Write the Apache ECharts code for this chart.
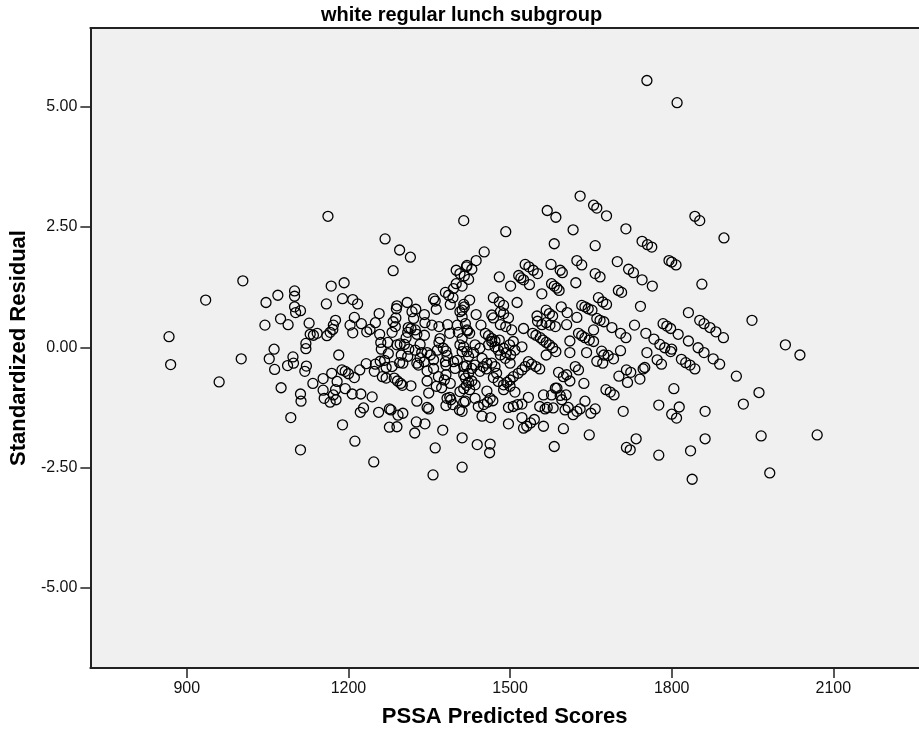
<!DOCTYPE html>
<html>
<head>
<meta charset="utf-8">
<style>
  html, body { margin: 0; padding: 0; background: #fff; }
  #chart { width: 919px; height: 733px; }
</style>
<script src="https://cdn.jsdelivr.net/npm/echarts@6/dist/echarts.min.js"></script>
</head>
<body>
<div id="chart"></div>
<script>
// tick positions shown on each axis
const xTicks = [900, 1200, 1500, 1800, 2100];
const yTicks = [-5, -2.5, 0, 2.5, 5];

// [predicted score, standardized residual]
const leftPoints = [
  [1162, 2.72], [1004, 1.38], [935, 0.98], [867, 0.22], [870, -0.36], [960, -0.72],
  [1001, -0.24], [1047, 0.93], [1069, 1.08], [1100, 1.17], [1100, 1.06], [1100, 0.84],
  [1102, 0.72], [1111, 0.76], [1045, 0.46], [1074, 0.59], [1088, 0.47], [1127, 0.50],
  [1129, 0.27], [1135, 0.25], [1142, 0.29], [1121, 0.08], [1121, -0.03], [1160, 0.24],
  [1159, 0.90], [1168, 1.27], [1062, -0.04], [1053, -0.24], [1063, -0.46], [1097, -0.20],
  [1087, -0.38], [1098, -0.33], [1122, -0.39], [1119, -0.50], [1075, -0.84], [1111, -0.97],
  [1112, -1.12], [1134, -0.75], [1153, -0.65], [1153, -0.89], [1155, -1.06], [1093, -1.46],
  [1111, -2.13]
];

const midLeftPoints = [
  [1414, 2.63], [1268, 2.25], [1295, 2.02], [1315, 1.87], [1283, 1.59], [1192, 1.34],
  [1189, 1.01], [1208, 0.99], [1217, 0.90], [1176, 0.56], [1172, 0.46], [1171, 0.37],
  [1166, 0.31], [1203, 0.46], [1208, 0.30], [1211, 0.62], [1224, 0.49], [1234, 0.32],
  [1250, 0.51], [1257, 0.70], [1258, 0.27], [1240, 0.37], [1182, -0.16], [1169, -0.54],
  [1188, -0.47], [1194, -0.50], [1200, -0.55], [1211, -0.63], [1221, -0.47], [1233, -0.34],
  [1179, -0.71], [1176, -0.88], [1172, -0.99], [1177, -1.09], [1166, -1.14], [1194, -0.86],
  [1207, -0.97], [1223, -0.97], [1244, -1.03], [1222, -1.35], [1228, -1.26], [1189, -1.61],
  [1212, -1.95], [1247, -2.38], [1250, -0.35], [1248, -0.50], [1259, -0.29], [1267, -0.27],
  [1261, -0.04], [1273, 0.10], [1256, -1.35], [1276, -1.28], [1279, -1.30], [1292, -1.41],
  [1301, -1.37], [1276, -1.66], [1290, -1.65], [1263, -0.61], [1270, -0.64], [1285, -0.64],
  [1291, -0.70], [1297, -0.75], [1300, -0.79], [1316, -0.80], [1281, -0.40], [1295, -0.32],
  [1298, -0.16], [1301, -0.33], [1310, -0.19], [1290, 0.05], [1296, 0.07], [1274, -0.13],
  [1281, 0.31], [1287, 0.43], [1283, 0.53], [1288, 0.61], [1289, 0.80], [1290, 0.86],
  [1309, 0.93], [1325, 0.79], [1318, 0.74], [1321, 0.60], [1341, 0.68], [1342, 0.51],
  [1316, 0.39], [1311, 0.41], [1310, 0.31], [1324, 0.36], [1327, 0.27], [1307, 0.20],
  [1333, 0.06], [1341, 0.25], [1336, -0.11], [1346, -0.11], [1341, -0.30], [1330, -0.37],
  [1346, -0.49], [1358, -0.44], [1358, -0.26], [1352, -0.16], [1358, 1.01], [1361, 0.96],
  [1363, 0.79], [1355, 0.46], [1368, 0.43], [1384, 0.47], [1388, 0.29], [1370, 0.18],
  [1368, 0.10], [1376, -0.02], [1381, -0.08], [1365, -0.06], [1383, -0.17], [1380, -0.30],
  [1381, -0.37], [1395, -0.30], [1402, -0.27], [1398, -0.44], [1381, -0.57], [1378, -0.68],
  [1389, -0.75], [1373, -0.84], [1383, -1.06], [1388, -1.04], [1381, -1.21], [1394, -1.19],
  [1390, -1.09], [1406, -1.30], [1414, -1.14], [1407, -0.92], [1419, -0.79], [1414, -0.57],
  [1419, -0.38], [1411, -0.09], [1407, 0.05], [1420, -0.09], [1404, 0.31], [1420, 0.36],
  [1402, 0.46], [1417, 0.49], [1411, 0.63], [1407, 0.74], [1415, 0.84], [1389, 0.89],
  [1380, 1.14], [1386, 1.08], [1394, 1.03], [1395, 1.22], [1400, 1.32], [1411, 1.27],
  [1400, 1.60], [1407, 1.53], [1419, 1.67], [1415, 1.48], [1327, -1.12], [1346, -1.25],
  [1349, -1.28], [1326, -1.55], [1342, -1.59], [1323, -1.78], [1375, -1.72], [1361, -2.09],
  [1411, -1.88], [1411, -2.49], [1357, -2.65], [1346, -0.70], [1349, -0.95], [1363, -0.81],
  [1367, -0.61], [1304, 0.06], [1312, -0.04], [1324, -0.06], [1333, -0.22], [1327, -0.33],
  [1270, -0.42], [1260, 0.10]
];

const midRightPoints = [
  [1492, 2.40], [1569, 2.84], [1585, 2.70], [1617, 2.44], [1582, 2.15], [1658, 2.11],
  [1655, 2.95], [1661, 2.89], [1679, 2.73], [1630, 3.14], [1452, 1.98], [1437, 1.80],
  [1429, 1.62], [1420, 1.70], [1423, 1.41], [1480, 1.46], [1501, 1.27], [1516, 1.49],
  [1520, 1.44], [1525, 1.40], [1528, 1.72], [1535, 1.67], [1543, 1.60], [1551, 1.53],
  [1536, 1.30], [1576, 1.72], [1593, 1.60], [1597, 1.55], [1624, 1.80], [1633, 1.71],
  [1622, 1.34], [1577, 1.32], [1582, 1.27], [1587, 1.23], [1591, 1.18], [1559, 1.11],
  [1658, 1.53], [1667, 1.46], [1425, 0.98], [1414, 0.89], [1411, 0.77], [1469, 1.03],
  [1480, 0.94], [1488, 0.87], [1513, 0.93], [1437, 0.68], [1466, 0.67], [1469, 0.61],
  [1482, 0.74], [1488, 0.70], [1497, 0.61], [1421, 0.34], [1425, 0.29], [1446, 0.46],
  [1482, 0.47], [1492, 0.43], [1503, 0.36], [1454, 0.29], [1460, 0.24], [1466, 0.18],
  [1472, 0.13], [1480, 0.15], [1525, 0.39], [1550, 0.65], [1567, 0.77], [1573, 0.70],
  [1579, 0.65], [1595, 0.84], [1606, 0.72], [1624, 0.62], [1633, 0.87], [1639, 0.84],
  [1645, 0.80], [1652, 0.77], [1664, 1.03], [1672, 0.94], [1679, 0.89], [1661, 0.60],
  [1667, 0.56], [1674, 0.53], [1551, 0.54], [1559, 0.47], [1567, 0.51], [1574, 0.46],
  [1584, 0.43], [1605, 0.47], [1655, 0.36], [1627, 0.29], [1633, 0.24], [1639, 0.20],
  [1647, 0.15], [1655, 0.12], [1611, 0.13], [1611, -0.11], [1642, -0.11], [1670, -0.08],
  [1674, -0.16], [1661, -0.29], [1672, -0.33], [1542, 0.29], [1548, 0.25], [1556, 0.20],
  [1561, 0.15], [1567, 0.10], [1573, 0.05], [1579, -0.01], [1585, -0.09], [1567, -0.16],
  [1522, 0.01], [1506, 0.12], [1499, 0.05], [1509, -0.06], [1488, -0.02], [1493, -0.11],
  [1501, -0.16], [1491, -0.23], [1460, 0.05], [1466, 0.12], [1472, 0.01], [1478, -0.06],
  [1482, -0.16], [1444, -0.02], [1435, 0.05], [1432, -0.11], [1423, -0.19], [1411, 0.18],
  [1414, 0.01], [1448, -0.23], [1457, -0.33], [1466, -0.33], [1472, -0.40], [1450, -0.40],
  [1456, -0.45], [1444, -0.50], [1435, -0.37], [1429, -0.44], [1423, -0.54], [1414, -0.40],
  [1500, -0.33], [1534, -0.30], [1540, -0.35], [1548, -0.40], [1555, -0.45], [1528, -0.40],
  [1522, -0.47], [1515, -0.54], [1506, -0.61], [1500, -0.68], [1494, -0.73], [1488, -0.78],
  [1475, -0.54], [1469, -0.63], [1478, -0.71], [1417, -0.64], [1423, -0.73], [1429, -0.70],
  [1435, -0.78], [1414, -0.86], [1425, -0.88], [1457, -0.91], [1463, -1.06], [1468, -1.11],
  [1458, -1.14], [1451, -1.19], [1441, -1.23], [1435, -1.06], [1417, -1.12], [1411, -1.33],
  [1448, -1.43], [1464, -1.46], [1497, -1.25], [1506, -1.23], [1514, -1.19], [1522, -1.18],
  [1534, -1.04], [1509, -0.93], [1500, -0.81], [1488, -0.88], [1497, -1.59], [1525, -1.68],
  [1531, -1.64], [1538, -1.57], [1545, -1.50], [1522, -1.46], [1562, -1.64], [1555, -1.23],
  [1565, -1.28], [1569, -1.25], [1580, -1.26], [1562, -0.99], [1577, -0.99], [1584, -0.85],
  [1593, -1.00], [1596, -1.09], [1604, -0.99], [1611, -0.70], [1605, -0.57], [1599, -0.61],
  [1590, -0.52], [1587, -0.85], [1621, -0.40], [1627, -0.47], [1637, -0.75], [1602, -1.30],
  [1608, -1.25], [1617, -1.40], [1624, -1.33], [1630, -1.28], [1639, -1.12], [1599, -1.69],
  [1650, -1.37], [1658, -1.28], [1647, -1.82], [1582, -2.06], [1439, -2.02], [1463, -2.01],
  [1462, -2.19]
];

const rightPoints = [
  [1754, 5.54], [1810, 5.08], [1715, 2.46], [1745, 2.20], [1755, 2.13], [1763, 2.08],
  [1843, 2.72], [1852, 2.63], [1897, 2.27], [1699, 1.78], [1795, 1.80], [1800, 1.77],
  [1808, 1.71], [1720, 1.62], [1729, 1.55], [1745, 1.40], [1764, 1.27], [1856, 1.31],
  [1701, 1.18], [1707, 1.14], [1742, 0.85], [1831, 0.72], [1949, 0.56], [1689, 0.41],
  [1731, 0.46], [1705, 0.29], [1715, 0.20], [1752, 0.29], [1784, 0.49], [1791, 0.44],
  [1798, 0.39], [1812, 0.27], [1852, 0.56], [1860, 0.49], [1871, 0.41], [1882, 0.32],
  [1896, 0.20], [1831, 0.13], [1767, 0.17], [1778, 0.06], [1787, -0.01], [1798, -0.09],
  [1800, -0.04], [1849, -0.01], [1860, -0.11], [1818, -0.25], [1826, -0.32], [1834, -0.37],
  [1843, -0.45], [1877, -0.24], [1889, -0.35], [2011, 0.05], [2038, -0.16], [1920, -0.60],
  [1962, -0.94], [1933, -1.18], [1682, -0.17], [1692, -0.24], [1705, -0.07], [1754, -0.11],
  [1773, -0.26], [1781, -0.35], [1750, -0.42], [1747, -0.45], [1716, -0.47], [1724, -0.52],
  [1702, -0.60], [1718, -0.73], [1741, -0.66], [1678, -0.88], [1686, -0.93], [1693, -0.99],
  [1804, -0.86], [1776, -1.20], [1814, -1.24], [1800, -1.39], [1809, -1.47], [1862, -1.33],
  [1710, -1.33], [1734, -1.90], [1716, -2.08], [1723, -2.13], [1776, -2.24], [1835, -2.15],
  [1862, -1.90], [1966, -1.84], [2070, -1.82], [1838, -2.74], [1982, -2.61]
];

const allPoints = leftPoints.concat(midLeftPoints, midRightPoints, rightPoints);

const FONT = "'Liberation Sans', Arial, sans-serif";
const INK = '#222';

const chart = echarts.init(document.getElementById('chart'), null, { renderer: 'canvas' });

const axisLineStyle = { color: INK, width: 2 };

chart.setOption({
  animation: false,
  backgroundColor: '#fff',
  title: {
    text: 'white regular lunch subgroup',
    left: 321,
    top: 5,
    padding: 0,
    textStyle: { fontFamily: FONT, fontSize: 20, fontWeight: 'bold', color: '#000' }
  },
  grid: {
    left: 90, top: 28, right: 0, bottom: 62,
    show: true, backgroundColor: '#f0f0f0', borderWidth: 0
  },
  xAxis: [
    {
      type: 'value', min: 721, max: 2259, position: 'bottom',
      axisLine: { show: true, onZero: false, lineStyle: axisLineStyle },
      axisTick: { show: true, length: 10, customValues: xTicks, lineStyle: { color: INK, width: 1.5 } },
      axisLabel: {
        customValues: xTicks, margin: 13, fontFamily: FONT, fontSize: 16, color: '#111',
        formatter: v => String(v)
      },
      splitLine: { show: false },
      name: 'PSSA Predicted Scores', nameLocation: 'middle', nameGap: 38,
      nameTextStyle: { fontFamily: FONT, fontSize: 22, fontWeight: 'bold', color: '#000' }
    },
    {
      // top frame line of the plot
      type: 'value', min: 721, max: 2259, position: 'top',
      axisLine: { show: true, onZero: false, lineStyle: axisLineStyle },
      axisTick: { show: false }, axisLabel: { show: false }, splitLine: { show: false }
    }
  ],
  yAxis: {
    type: 'value', min: -6.66, max: 6.63,
    axisLine: { show: true, onZero: false, lineStyle: axisLineStyle },
    axisTick: { show: true, length: 10, customValues: yTicks, lineStyle: { color: INK, width: 1.5 } },
    axisLabel: {
      customValues: yTicks, margin: 13, fontFamily: FONT, fontSize: 16, color: '#111',
      formatter: v => v.toFixed(2)
    },
    splitLine: { show: false },
    name: 'Standardized Residual', nameLocation: 'middle', nameGap: 47,
    nameTextStyle: { fontFamily: FONT, fontSize: 22, fontWeight: 'bold', color: '#000' }
  },
  series: [{
    type: 'scatter',
    xAxisIndex: 0,
    symbol: 'circle',
    symbolSize: 10,
    silent: true,
    itemStyle: { color: 'transparent', borderColor: '#000', borderWidth: 1.3, opacity: 1 },
    data: allPoints
  }]
});
</script>
</body>
</html>
